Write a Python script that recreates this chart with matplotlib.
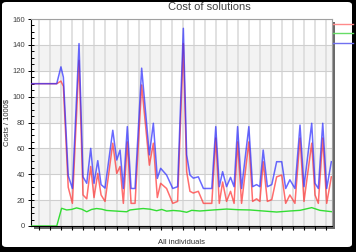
import matplotlib
matplotlib.use("Agg")
import matplotlib.pyplot as plt
from matplotlib.patches import FancyBboxPatch, Rectangle
from matplotlib.lines import Line2D
from matplotlib.ticker import MultipleLocator

plt.rcParams['font.family'] = ['Liberation Sans', 'DejaVu Sans']

# individuals (x) for the upper two curves
individuals = [1.0, 12.9, 14.8, 15.9, 18.1, 20.0, 23.0, 24.8, 26.5, 28.3,
               29.8, 31.5, 33.0, 34.8, 38.3, 40.1, 41.6, 43.1, 44.9, 46.6,
               48.4, 51.4, 54.9, 56.7, 58.5, 60.0, 62.7, 65.5, 67.7, 70.3,
               71.8, 73.3, 74.8, 77.1, 79.4, 83.2, 85.0, 86.6, 88.1, 89.9,
               91.7, 93.3, 94.9, 96.7, 100.0, 101.7, 103.5, 105.0, 106.5, 108.4,
               110.4, 112.6, 114.9, 116.7, 118.6, 120.9, 123.2, 125.0, 128.5, 130.0,
               131.5, 133.5, 135.3, 137.4]
# blue curve
cost_max = [110, 110, 123, 115, 39, 29, 141, 38, 33, 60,
            33, 50.5, 32, 29.3, 74, 51, 58.7, 29, 76.8, 29,
            29, 122, 55, 79.4, 36.8, 44.6, 39.4, 29, 30.4, 152.8,
            55, 39.4, 37, 38, 29, 29, 76.8, 30.4, 42, 30.4,
            37.6, 30.4, 76.8, 29, 76.8, 30.4, 32, 30.4, 58.7, 30.4,
            32, 49.7, 49.7, 29, 35.7, 29, 78, 30.4, 79.4, 33,
            29, 79.4, 29, 49.7]
# red curve
cost_avg = [110, 110, 112, 108, 30, 17.5, 128, 24, 21, 46,
            22, 40.7, 24, 19, 64, 40.6, 46, 17.5, 65, 17.5,
            17.5, 109, 47, 64, 22, 33, 29, 17.5, 19, 141,
            42, 26.8, 25.5, 26.8, 17.5, 17.5, 68, 17.5, 34, 19,
            26.8, 17.5, 65, 17.5, 65, 19, 21, 19, 49.7, 19,
            20.4, 38, 39.4, 17.5, 24, 17.5, 68, 19, 64, 24,
            17.5, 68, 17.5, 38]

# green curve
individuals_min = [1.0, 12.9, 15.1, 17.4, 19.6, 21.9, 24.2, 26.5, 28.7, 31.0,
                   33.3, 35.5, 40.1, 44.6, 46.1, 49.1, 52.1, 55.2, 58.2, 60.5,
                   62.7, 65.7, 68.8, 71.8, 74.1, 77.8, 83.9, 89.9, 95.2, 100.5,
                   106.5, 112.6, 118.6, 123.2, 128.5, 132.2, 137.4]
cost_min = [0, 0, 13.7, 12.4, 12.8, 14, 13, 11, 12.8, 13.5,
            13, 12, 11.5, 11, 12.4, 13, 13.5, 13, 11.8, 12.8,
            11.5, 12, 11.6, 10.6, 12.1, 11.6, 12.4, 13.1, 12.6, 12.4,
            11.6, 10.8, 11.6, 12.1, 14.2, 12.1, 11.1]

W, H = 356, 252
fig = plt.figure(figsize=(W / 100, H / 100), dpi=100)
fig.patch.set_facecolor('black')

# white panel inside the black frame
panel = FancyBboxPatch((2 / W, 5 / H), 350 / W, 245 / H,
                       boxstyle='round,pad=0,rounding_size=0.012',
                       transform=fig.transFigure, fc='white', ec='none', zorder=-3)
fig.add_artist(panel)

ax_l, ax_b, ax_w, ax_h = 30.5 / W, 26 / H, 301.5 / W, 207 / H
# drop shadow of the plot area
shadow = Rectangle((ax_l + 3 / W, ax_b - 3 / H), ax_w, ax_h,
                   transform=fig.transFigure, fc='#6a6a6a', ec='none', zorder=-2)
fig.add_artist(shadow)

ax = fig.add_axes([ax_l, ax_b, ax_w, ax_h])
ax.set_facecolor('white')

for lo in (0, 40, 80, 120):
    ax.axhspan(lo, lo + 20, color='#f3f3f3', lw=0, zorder=0)

ax.plot(individuals, cost_avg, color='#ff3030', lw=1.1, alpha=0.7, zorder=3)
ax.plot(individuals, cost_max, color='#2a2aff', lw=1.1, alpha=0.7, zorder=4)
ax.plot(individuals_min, cost_min, color='#33dd33', lw=1.0, zorder=3)

ax.set_xlim(1, 137.7)
ax.set_ylim(0, 160)
ax.set_xticks(range(5, 136, 5))
ax.yaxis.set_major_locator(MultipleLocator(20))
ax.yaxis.set_minor_locator(MultipleLocator(5))
ax.set_axisbelow(True)
ax.grid(axis='x', color='#d9d9d9', lw=1.1)
ax.grid(axis='y', color='#cfcfcf', lw=0.8)

ax.tick_params(axis='x', direction='out', length=2.9, width=0.8, labelbottom=False)
ax.tick_params(axis='y', which='major', direction='inout', length=5, width=0.7,
               labelsize=5.5, labelcolor='#404040', pad=1.5)
ax.tick_params(axis='y', which='minor', direction='in', length=2.2, width=0.7)

for side in ('left', 'bottom'):
    ax.spines[side].set_color('black')
    ax.spines[side].set_linewidth(0.8)
for side in ('top', 'right'):
    ax.spines[side].set_color('#a0a0a0')
    ax.spines[side].set_linewidth(0.8)

fig.text(209 / W, 1 - 7 / H, 'Cost of solutions', ha='center', va='center',
         fontsize=8, color='#404040')
fig.text(7 / W, 1 - 123 / H, 'Costs / 1000$', rotation=90, ha='center',
         va='center', fontsize=5.5, color='#303030')
fig.text(181 / W, 1 - 243 / H, 'All individuals', ha='center', va='center',
         fontsize=5.5, color='#303030')

# legend samples (text is clipped by the window edge)
for y, c in ((24, '#ff8a8a'), (33, '#66dd66'), (43, '#7070f0')):
    fig.add_artist(Line2D([333 / W, 353 / W], [1 - y / H, 1 - y / H],
                          transform=fig.transFigure, color=c, lw=1.0))

# right and top black edge of the window
fig.add_artist(Rectangle((353 / W, 0), 3 / W, 1, transform=fig.transFigure,
                         fc='black', ec='none'))

fig.savefig('out.png', dpi=100)
